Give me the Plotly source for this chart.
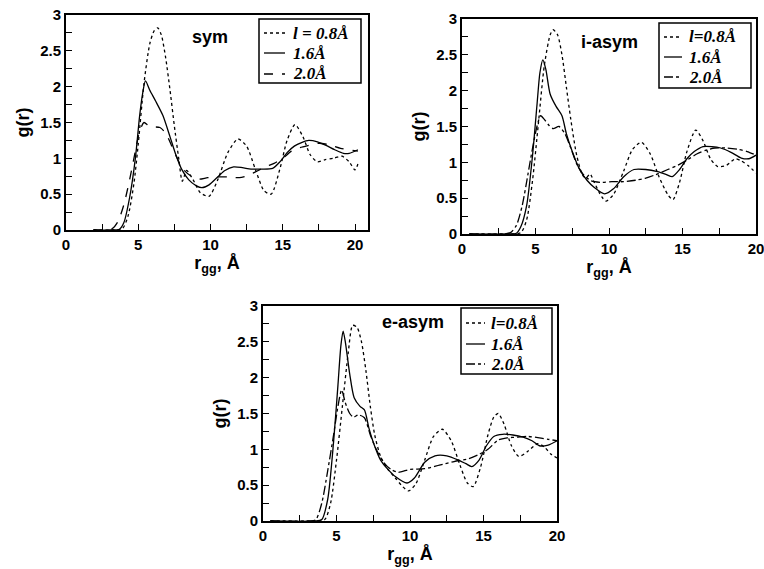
import plotly.graph_objects as go

# ---------------- data ----------------
# Panel 1: sym
sym_x_08 = [1.9, 3.0, 3.9, 4.3, 4.7, 5.0, 5.4, 5.8, 6.1, 6.35, 6.6, 6.9, 7.2, 7.5, 7.8, 8.05, 8.35, 8.8, 9.3, 9.9, 10.5, 11.2, 11.9, 12.5, 13.1, 13.7, 14.2, 14.8, 15.3, 15.85, 16.4, 16.9, 17.4, 17.9, 18.5, 19.1, 19.6, 20.0, 20.2]
sym_y_08 = [0, 0, 0.02, 0.2, 0.65, 1.2, 2.05, 2.6, 2.78, 2.82, 2.72, 2.4, 1.95, 1.45, 1.0, 0.68, 0.83, 0.7, 0.52, 0.47, 0.7, 1.08, 1.27, 1.17, 0.85, 0.55, 0.5, 0.85, 1.25, 1.47, 1.3, 1.05, 0.95, 0.98, 1.0, 1.03, 0.95, 0.84, 0.92]
sym_x_16 = [1.9, 3.0, 3.7, 4.0, 4.4, 4.8, 5.1, 5.3, 5.5, 5.8, 6.2, 6.7, 7.2, 7.6, 8.0, 8.5, 9.0, 9.4, 9.9, 10.5, 11.0, 11.6, 12.2, 12.8, 13.5, 14.3, 14.8, 15.3, 15.8, 16.3, 16.8, 17.4, 18.0, 18.6, 19.2, 19.6, 20.2]
sym_y_16 = [0, 0, 0.01, 0.1, 0.45, 1.0, 1.6, 1.9, 2.08, 1.95, 1.8, 1.6, 1.3, 1.05, 0.85, 0.7, 0.62, 0.59, 0.63, 0.74, 0.83, 0.88, 0.87, 0.85, 0.85, 0.86, 0.95, 1.08, 1.17, 1.22, 1.25, 1.23, 1.18, 1.12, 1.07, 1.07, 1.12]
sym_x_20 = [1.9, 2.8, 3.2, 3.6, 4.0, 4.4, 4.8, 5.1, 5.4, 5.7, 6.0, 6.5, 6.9, 7.3, 7.7, 8.1, 8.6, 9.2, 9.8, 10.5, 11.2, 12.0, 12.6, 13.2, 13.8, 14.4, 15.0, 15.6, 16.2, 16.8, 17.5, 18.2, 19.0, 19.6, 20.2]
sym_y_20 = [0, 0, 0.02, 0.12, 0.35, 0.7, 1.1, 1.38, 1.5, 1.46, 1.44, 1.43, 1.35, 1.18, 1.0, 0.85, 0.76, 0.71, 0.73, 0.74, 0.74, 0.73, 0.76, 0.82, 0.88, 0.93, 1.0, 1.1, 1.15, 1.18, 1.21, 1.19, 1.14, 1.12, 1.1]

# Panel 2: i-asym
ia_x_08 = [0.5, 3.0, 4.0, 4.4, 4.8, 5.2, 5.6, 6.0, 6.2, 6.5, 6.8, 7.1, 7.4, 7.8, 8.2, 8.45, 8.7, 9.0, 9.5, 9.8, 10.3, 11.0, 11.6, 12.2, 12.8, 13.4, 14.0, 14.35, 14.8, 15.3, 15.9, 16.4, 16.9, 17.4, 18.0, 18.6, 19.0, 19.5, 20.0]
ia_y_08 = [0, 0, 0.02, 0.2, 0.75, 1.55, 2.35, 2.78, 2.85, 2.78, 2.5, 2.05, 1.6, 1.1, 0.82, 0.78, 0.84, 0.72, 0.52, 0.46, 0.55, 0.88, 1.18, 1.28, 1.12, 0.8, 0.55, 0.48, 0.72, 1.15, 1.45, 1.3, 1.05, 0.94, 0.96, 1.05, 1.02, 0.95, 0.85]
ia_x_16 = [0.5, 3.0, 3.7, 4.0, 4.4, 4.8, 5.1, 5.3, 5.5, 5.7, 6.0, 6.4, 6.8, 7.1, 7.5, 8.0, 8.5, 9.0, 9.7, 10.3, 11.0, 11.7, 12.5, 13.3, 13.9, 14.3, 14.8, 15.3, 15.8, 16.4, 17.0, 17.6, 18.3, 19.0, 19.5, 20.0]
ia_y_16 = [0, 0, 0.01, 0.1, 0.4, 1.1, 1.8, 2.25, 2.43, 2.3, 1.95, 1.78, 1.65, 1.4, 1.15, 0.9, 0.75, 0.65, 0.56, 0.63, 0.8, 0.9, 0.9, 0.87, 0.83, 0.8, 0.9, 1.05, 1.15, 1.22, 1.22, 1.2, 1.14, 1.06, 1.05, 1.1]
ia_x_20 = [0.5, 2.8, 3.3, 3.7, 4.1, 4.5, 4.8, 5.1, 5.35, 5.6, 5.9, 6.2, 6.6, 7.0, 7.4, 7.8, 8.3, 8.8, 9.5, 10.2, 11.0, 11.8, 12.5, 13.2, 14.0, 14.7, 15.3, 16.0, 16.6, 17.2, 18.0, 18.8, 19.4, 20.0]
ia_y_20 = [0, 0, 0.02, 0.12, 0.4, 0.85, 1.2, 1.5, 1.65, 1.6, 1.52, 1.47, 1.5, 1.4, 1.2, 0.98, 0.82, 0.74, 0.72, 0.73, 0.73, 0.75, 0.78, 0.83, 0.9, 0.96, 1.03, 1.12, 1.17, 1.2, 1.2, 1.18, 1.15, 1.1]

# Panel 3: e-asym
ea_x_08 = [0.5, 3.5, 4.2, 4.6, 5.0, 5.4, 5.8, 6.1, 6.4, 6.7, 7.0, 7.3, 7.6, 8.0, 8.5, 9.0, 9.5, 9.9, 10.4, 11.0, 11.6, 12.2, 12.8, 13.4, 13.9, 14.3, 14.8, 15.3, 15.7, 16.0, 16.4, 16.9, 17.4, 18.0, 18.7, 19.2, 19.6, 20.0]
ea_y_08 = [0, 0, 0.02, 0.25, 0.85, 1.6, 2.35, 2.73, 2.7, 2.5, 2.1, 1.6, 1.2, 0.9, 0.72, 0.6, 0.48, 0.42, 0.52, 0.85, 1.18, 1.28, 1.12, 0.78, 0.53, 0.48, 0.75, 1.2, 1.45, 1.5, 1.35, 1.05, 0.9, 0.97, 1.08, 1.02, 0.93, 0.88]
ea_x_16 = [0.5, 3.5, 4.0, 4.4, 4.8, 5.1, 5.3, 5.45, 5.6, 5.9, 6.2, 6.6, 6.9, 7.2, 7.5, 8.0, 8.5, 9.0, 9.8, 10.3, 11.0, 11.7, 12.5, 13.3, 13.8, 14.2, 14.7, 15.2, 15.7, 16.3, 17.0, 17.7, 18.3, 18.8, 19.4, 20.0]
ea_y_16 = [0, 0, 0.02, 0.3, 1.1, 1.9, 2.45, 2.65, 2.5, 2.05, 1.72, 1.6, 1.55, 1.3, 1.1, 0.85, 0.72, 0.62, 0.53, 0.6, 0.82, 0.91, 0.91, 0.85, 0.8, 0.76, 0.85, 1.05, 1.18, 1.21, 1.2, 1.17, 1.12, 1.05, 1.06, 1.12]
ea_x_20 = [0.5, 3.2, 3.6, 4.0, 4.4, 4.8, 5.1, 5.35, 5.6, 5.9, 6.15, 6.5, 6.9, 7.3, 7.7, 8.2, 8.7, 9.2, 10.0, 11.0, 12.0, 13.0, 14.0, 14.7, 15.3, 16.0, 16.6, 17.3, 18.0, 18.8, 19.4, 20.0]
ea_y_20 = [0, 0, 0.02, 0.25, 0.7, 1.2, 1.6, 1.83, 1.65, 1.5, 1.45, 1.48, 1.44, 1.2, 1.0, 0.82, 0.72, 0.68, 0.72, 0.73, 0.78, 0.83, 0.87, 0.93, 1.0, 1.13, 1.16, 1.17, 1.18, 1.16, 1.14, 1.12]

panel_titles = ["sym", "i-asym", "e-asym"]
legend_names = [
    ["<i>l</i> = 0.8Å", "1.6Å", "2.0Å"],
    ["<i>l</i>=0.8Å", "1.6Å", "2.0Å"],
    ["<i>l</i>=0.8Å", "1.6Å", "2.0Å"],
]
x_max = [20.9, 20, 20]

# ---------------- figure ----------------
fig = go.Figure()

panels = [
    (sym_x_08, sym_y_08, sym_x_16, sym_y_16, sym_x_20, sym_y_20, "dash"),
    (ia_x_08, ia_y_08, ia_x_16, ia_y_16, ia_x_20, ia_y_20, "dashdot"),
    (ea_x_08, ea_y_08, ea_x_16, ea_y_16, ea_x_20, ea_y_20, "dashdot"),
]
dash_styles = []

for i, (x8, y8, x16, y16, x20, y20, dash3) in enumerate(panels):
    xa = "x" if i == 0 else f"x{i+1}"
    ya = "y" if i == 0 else f"y{i+1}"
    styles = ["dot", "solid", dash3]
    dash_styles.append(styles)
    for xs, ys, dash, name in [(x8, y8, styles[0], legend_names[i][0]),
                               (x16, y16, styles[1], legend_names[i][1]),
                               (x20, y20, styles[2], legend_names[i][2])]:
        fig.add_trace(go.Scatter(
            x=xs, y=ys, mode="lines", name=name, xaxis=xa, yaxis=ya, showlegend=False,
            line=dict(color="black", width=1.3, dash=dash, shape="spline", smoothing=0.7),
        ))

# Page body margin is removed (post_script below), so figure pixels == window pixels.
W, H = 764, 569


def px(x):
    return x / W


def py(y):
    return 1 - y / H


# pixel boxes in window coordinates: (left, right, top, bottom)
boxes = [(66, 368, 15, 230), (462, 756, 19, 234), (263, 557, 306, 521)]

tickfont = dict(family="Liberation Sans, Arial", size=15, color="black", weight="bold")
titlefont = dict(family="Liberation Sans, Arial", size=18, color="black", weight="bold")

layout = dict(
    width=W, height=H, margin=dict(l=0, r=0, t=0, b=0),
    paper_bgcolor="white", plot_bgcolor="white", showlegend=False,
)

for i, (l, r, t, b) in enumerate(boxes):
    sfx = "" if i == 0 else str(i + 1)
    common = dict(showline=True, linecolor="black", linewidth=2, mirror=True,
                  ticks="inside", ticklen=6, tickwidth=1.3, tickcolor="black",
                  showgrid=False, zeroline=False, tickfont=tickfont, automargin=False,
                  ticklabeloverflow="allow")
    layout["xaxis" + sfx] = dict(
        common, domain=[px(l), px(r)], range=[0, x_max[i]], dtick=5, tick0=0,
        anchor="y" + sfx,
        minor=dict(ticks="inside", ticklen=6, tickcolor="black", tickwidth=1.3, dtick=2.5, showgrid=False),
        title=dict(text="r<sub>gg</sub>, Å", font=titlefont, standoff=2),
    )
    layout["yaxis" + sfx] = dict(
        common, domain=[py(b), py(t)], range=[0, 3], dtick=0.5, tick0=0,
        anchor="x" + sfx,
        minor=dict(ticks="inside", ticklen=6, tickcolor="black", tickwidth=1.3, dtick=0.25, showgrid=False),
        title=dict(text="g(r)", font=titlefont, standoff=6),
    )

fig.update_layout(**layout)

# ---- hand-drawn legend boxes (window pixel positions) ----
# (box left, box right, box top, box bottom, sample x0, sample x1, text x, row y's)
legend_geom = [
    (259, 361, 19, 83, 264, 285, 291, [33, 53, 74]),
    (659, 751, 23, 88, 664, 682, 687, [37, 57, 77]),
    (461, 552, 308, 374, 466, 485, 489, [323, 344, 364]),
]

for i, (bl, br, bt, bb, sx0, sx1, tx, rows) in enumerate(legend_geom):
    fig.add_shape(type="rect", xref="paper", yref="paper",
                  x0=px(bl), x1=px(br), y0=py(bb), y1=py(bt),
                  line=dict(color="black", width=1.5), fillcolor="white", layer="above")
    for j, ry in enumerate(rows):
        fig.add_shape(type="line", xref="paper", yref="paper",
                      x0=px(sx0), x1=px(sx1), y0=py(ry), y1=py(ry),
                      line=dict(color="black", width=1.3, dash=dash_styles[i][j]), layer="above")
        fig.add_annotation(x=px(tx), y=py(ry), xref="paper", yref="paper",
                           xanchor="left", yanchor="middle", showarrow=False,
                           text=legend_names[i][j],
                           font=dict(family="Liberation Serif, Times New Roman", size=17,
                                     color="black", weight="bold", style="italic"))

title_pos = [(210, 37), (609, 42), (413, 322)]
for (tx, ty), txt in zip(title_pos, panel_titles):
    fig.add_annotation(x=px(tx), y=py(ty), xref="paper", yref="paper",
                       xanchor="center", yanchor="middle",
                       text=txt, showarrow=False,
                       font=dict(family="Liberation Sans, Arial", size=18, color="black", weight="bold"))

fig.write_html("out.html",
               config={"displayModeBar": False},
               post_script="document.body.style.margin='0px';document.body.style.overflow='hidden';")
